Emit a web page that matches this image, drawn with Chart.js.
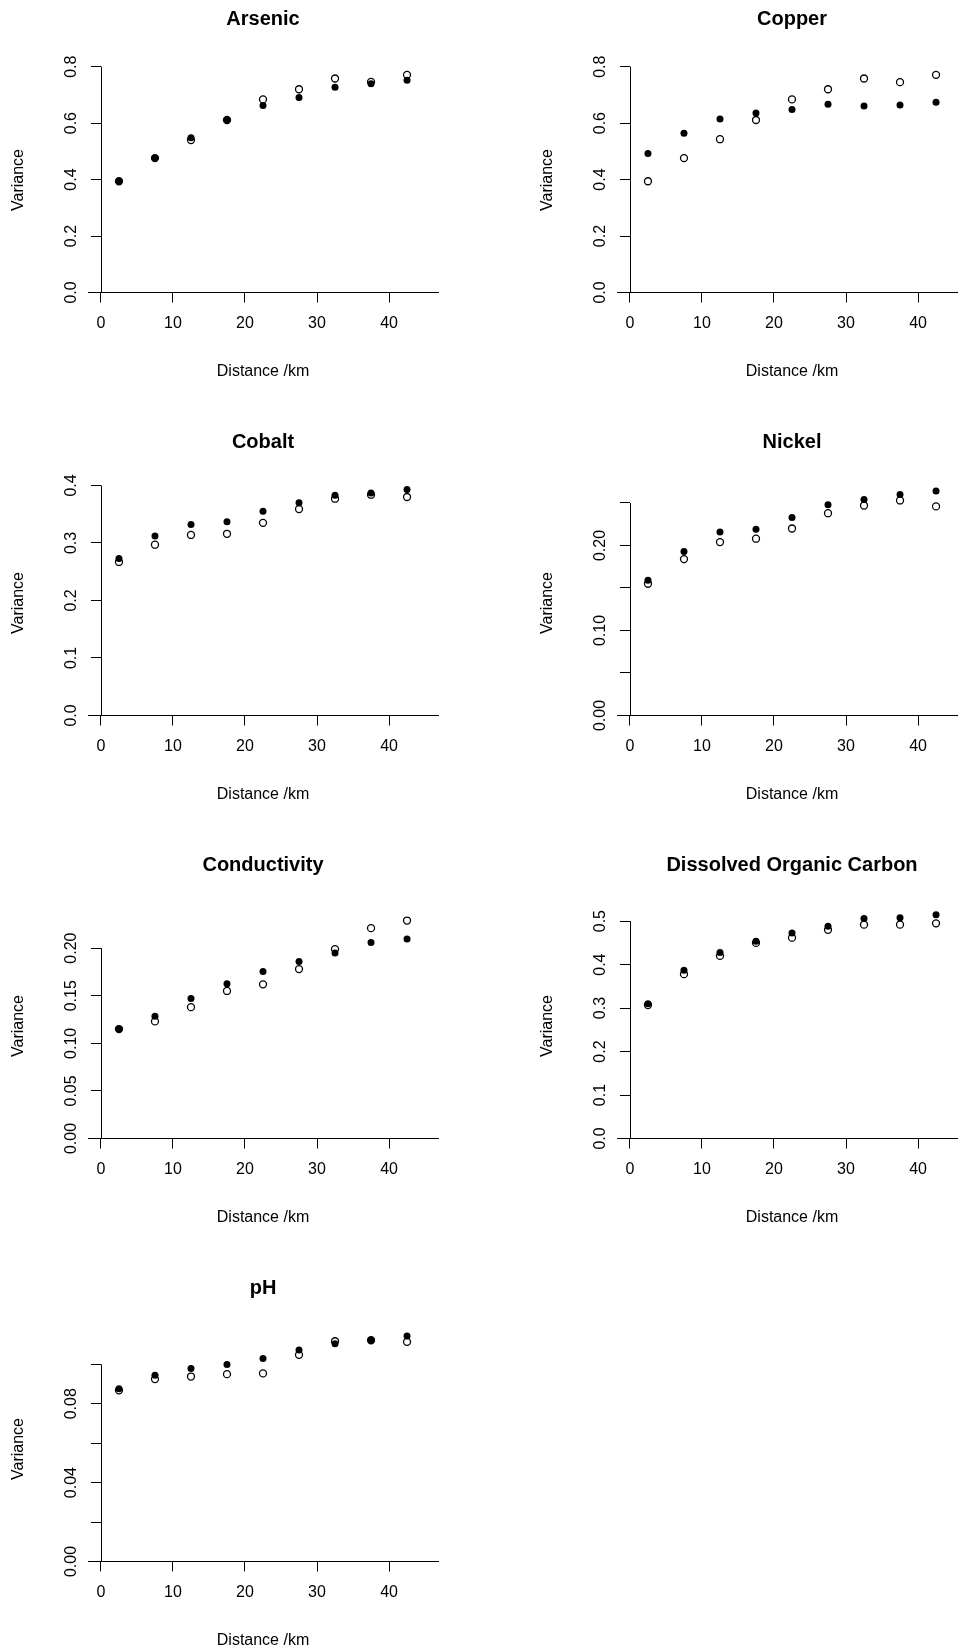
<!DOCTYPE html>
<html>
<head>
<meta charset="utf-8">
<title>Variograms</title>
<script src="https://cdn.jsdelivr.net/npm/chart.js@4/dist/chart.umd.min.js"></script>
<style>
  html, body {
    margin: 0;
    padding: 0;
    background: #fff;
  }
  #page {
    position: relative;
    width: 958px;
    height: 1651px;
    overflow: hidden;
    background: #fff;
  }
  #page canvas {
    position: absolute;
  }
</style>
</head>
<body>
<div id="page"></div>
<script>
// lag distances (km), shared by every panel
const distances = [2.5, 7.5, 12.5, 17.5, 22.5, 27.5, 32.5, 37.5, 42.5]
const xTicks = [0, 10, 20, 30, 40]

// open circles / filled dots
const arsenicOpen = [0.394, 0.476, 0.540, 0.611, 0.684, 0.720, 0.758, 0.746, 0.771]
const arsenicFilled = [0.394, 0.476, 0.548, 0.611, 0.662, 0.691, 0.727, 0.739, 0.752]

const copperOpen = [0.394, 0.476, 0.543, 0.611, 0.684, 0.720, 0.758, 0.745, 0.771]
const copperFilled = [0.492, 0.564, 0.615, 0.636, 0.648, 0.667, 0.661, 0.664, 0.674]

const cobaltOpen = [0.267, 0.297, 0.314, 0.316, 0.335, 0.359, 0.377, 0.384, 0.380]
const cobaltFilled = [0.273, 0.312, 0.332, 0.337, 0.355, 0.370, 0.383, 0.387, 0.393]

const nickelOpen = [0.155, 0.184, 0.204, 0.208, 0.220, 0.238, 0.247, 0.253, 0.246]
const nickelFilled = [0.159, 0.193, 0.216, 0.219, 0.233, 0.248, 0.254, 0.260, 0.264]

const conductivityOpen = [0.115, 0.123, 0.138, 0.155, 0.162, 0.178, 0.199, 0.221, 0.229]
const conductivityFilled = [0.115, 0.1285, 0.147, 0.1625, 0.1755, 0.186, 0.195, 0.206, 0.2095]

const docOpen = [0.307, 0.378, 0.420, 0.450, 0.462, 0.480, 0.492, 0.492, 0.495]
const docFilled = [0.310, 0.387, 0.428, 0.454, 0.473, 0.488, 0.506, 0.508, 0.515]

const phOpen = [0.0868, 0.0925, 0.0938, 0.0950, 0.0954, 0.1048, 0.1117, 0.1122, 0.1114]
const phFilled = [0.0876, 0.0945, 0.0979, 0.0999, 0.1030, 0.1073, 0.1104, 0.1122, 0.1143]

// y axis ticks and their printed labels ("" = tick without label)
const ticksTenths8 = [0, 0.2, 0.4, 0.6, 0.8]
const labelsTenths8 = ["0.0", "0.2", "0.4", "0.6", "0.8"]
const ticksCobalt = [0, 0.1, 0.2, 0.3, 0.4]
const labelsCobalt = ["0.0", "0.1", "0.2", "0.3", "0.4"]
const ticksNickel = [0, 0.05, 0.10, 0.15, 0.20, 0.25]
const labelsNickel = ["0.00", "", "0.10", "", "0.20", ""]
const ticksConductivity = [0, 0.05, 0.10, 0.15, 0.20]
const labelsConductivity = ["0.00", "0.05", "0.10", "0.15", "0.20"]
const ticksDoc = [0, 0.1, 0.2, 0.3, 0.4, 0.5]
const labelsDoc = ["0.0", "0.1", "0.2", "0.3", "0.4", "0.5"]
const ticksPh = [0, 0.02, 0.04, 0.06, 0.08, 0.10]
const labelsPh = ["0.00", "", "0.04", "", "0.08", ""]

const panels = [
  { name: "Arsenic", open: arsenicOpen, filled: arsenicFilled, yTop: 0.797, yTicks: ticksTenths8, yLabels: labelsTenths8 },
  { name: "Copper", open: copperOpen, filled: copperFilled, yTop: 0.797, yTicks: ticksTenths8, yLabels: labelsTenths8 },
  { name: "Cobalt", open: cobaltOpen, filled: cobaltFilled, yTop: 0.3913, yTicks: ticksCobalt, yLabels: labelsCobalt },
  { name: "Nickel", open: nickelOpen, filled: nickelFilled, yTop: 0.2647, yTicks: ticksNickel, yLabels: labelsNickel },
  { name: "Conductivity", open: conductivityOpen, filled: conductivityFilled, yTop: 0.2364, yTicks: ticksConductivity, yLabels: labelsConductivity },
  { name: "Dissolved Organic Carbon", open: docOpen, filled: docFilled, yTop: 0.5176, yTicks: ticksDoc, yLabels: labelsDoc },
  { name: "pH", open: phOpen, filled: phFilled, yTop: 0.1141, yTicks: ticksPh, yLabels: labelsPh }
]

const CELL_W = 529
const CELL_H = 423
const FONT_FAMILY = "'Liberation Sans', Arial, Helvetica, sans-serif"
const FONT_SIZE = 16
const TICK_LEN = 10

Chart.defaults.font.family = FONT_FAMILY
Chart.defaults.font.size = FONT_SIZE
Chart.defaults.color = "#000"

const measureCtx = document.createElement("canvas").getContext("2d")

function widestLabel(labels) {
  measureCtx.font = `${FONT_SIZE}px ${FONT_FAMILY}`
  return Math.max(...labels.map(label => measureCtx.measureText(label).width))
}

// R puts both axes through the origin, not on the plot edge,
// and the y axis line only runs from the first to the last tick
const axisPlacement = {
  id: "axisPlacement",
  afterLayout(chart) {
    const { x, y } = chart.scales
    y.right = x.getPixelForValue(0)
    x.top = y.getPixelForValue(0)
    x._gridLineItems = null
    x._labelItems = null
    y._gridLineItems = null
    y._labelItems = null
  },
  beforeDatasetsDraw(chart) {
    const { ctx, scales: { x, y } } = chart
    const ticks = y.ticks
    const px = Math.round(x.getPixelForValue(0)) + 0.5
    ctx.save()
    ctx.strokeStyle = "#000"
    ctx.lineWidth = 1
    ctx.beginPath()
    ctx.moveTo(px, y.getPixelForValue(ticks[0].value))
    ctx.lineTo(px, y.getPixelForValue(ticks[ticks.length - 1].value))
    ctx.stroke()
    ctx.restore()
  }
}

function toPoints(values) {
  return distances.map((d, i) => ({ x: d, y: values[i] }))
}

function makePanel(panel, index) {
  const page = document.getElementById("page")
  const col = index % 2
  const row = Math.floor(index / 2)

  const canvas = document.createElement("canvas")
  canvas.width = CELL_W
  canvas.height = CELL_H
  canvas.style.left = `${col * CELL_W}px`
  canvas.style.top = `${row * CELL_H}px`
  page.appendChild(canvas)

  const yPadding = 29.5 - TICK_LEN - widestLabel(panel.yLabels) / 2

  new Chart(canvas, {
    type: "scatter",
    data: {
      datasets: [
        {
          label: "open",
          data: toPoints(panel.open),
          pointRadius: 3.5,
          pointBorderWidth: 1.3,
          pointBorderColor: "#000",
          pointBackgroundColor: "rgba(0, 0, 0, 0)",
          clip: false,
          order: 2
        },
        {
          label: "filled",
          data: toPoints(panel.filled),
          pointRadius: 3.5,
          pointBorderWidth: 0,
          pointBorderColor: "#000",
          pointBackgroundColor: "#000",
          clip: false,
          order: 1
        }
      ]
    },
    options: {
      responsive: false,
      animation: false,
      events: [],
      layout: {
        padding: { left: 0, top: 0, right: 91, bottom: 0 }
      },
      plugins: {
        legend: { display: false },
        tooltip: { enabled: false },
        title: {
          display: true,
          text: panel.name,
          fullSize: false,
          color: "#000",
          font: { size: 20, weight: "bold" },
          padding: { top: 7, bottom: 27.5 }
        }
      },
      scales: {
        x: {
          type: "linear",
          position: "bottom",
          min: -1.8,
          max: 46.8,
          afterFit: scale => {
            scale.height = 121.5
          },
          afterBuildTicks: scale => {
            scale.ticks = xTicks.map(value => ({ value }))
          },
          grid: {
            drawOnChartArea: false,
            drawTicks: true,
            tickLength: TICK_LEN,
            color: "#000",
            lineWidth: 1
          },
          border: { display: true, color: "#000", width: 1 },
          ticks: {
            color: "#000",
            padding: 11.5,
            autoSkip: false,
            maxRotation: 0,
            callback: value => String(value)
          },
          title: {
            display: true,
            text: "Distance /km",
            color: "#000",
            padding: { top: 0, bottom: 41.6 }
          }
        },
        y: {
          type: "linear",
          position: "left",
          min: -0.04 * panel.yTop,
          max: 1.04 * panel.yTop,
          afterFit: scale => {
            scale.width = 88
          },
          afterBuildTicks: scale => {
            scale.ticks = panel.yTicks.map(value => ({ value }))
          },
          grid: {
            drawOnChartArea: false,
            drawTicks: true,
            tickLength: TICK_LEN,
            color: "#000",
            lineWidth: 1
          },
          border: { display: false },
          ticks: {
            color: "#000",
            padding: yPadding,
            autoSkip: false,
            minRotation: 90,
            maxRotation: 90,
            crossAlign: "center",
            callback: (value, i) => panel.yLabels[i]
          },
          title: {
            display: true,
            text: "Variance",
            color: "#000",
            padding: { top: 8.9, bottom: 0 }
          }
        }
      }
    },
    plugins: [axisPlacement]
  })
}

panels.forEach(makePanel)
</script>
</body>
</html>
